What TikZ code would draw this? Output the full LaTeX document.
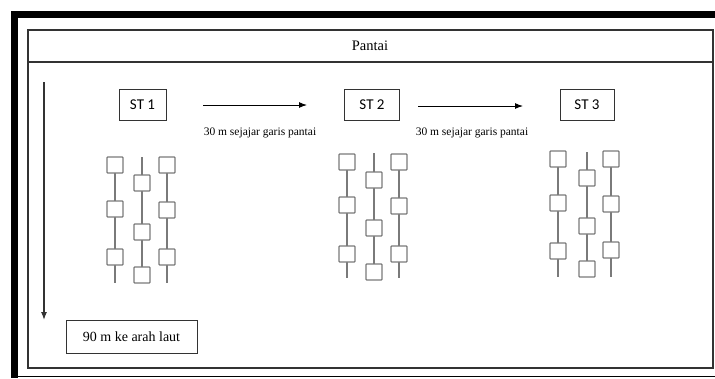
\documentclass[tikz,border=0pt]{standalone}
\usepackage{fontspec}
\setmainfont{Liberation Serif}
\newfontfamily\stfont{Carlito}
\usetikzlibrary{arrows.meta}
\definecolor{frameg}{HTML}{333333}
\definecolor{colg}{HTML}{7A7A7A}
\tikzset{
  stbox/.style={draw=frameg, line width=1pt, minimum width=#1, minimum height=31pt, inner sep=0pt, font=\stfont\fontsize{15}{17}\selectfont},
  sq/.style={draw=colg, line width=1.2pt, fill=white, minimum size=16pt, inner sep=0pt, rounded corners=0.8pt},
  colline/.style={draw=colg, line width=1.3pt},
  harrow/.style={draw=black, line width=1pt, -{Latex[length=8pt,width=6pt]}},
  lbl/.style={font=\fontsize{11.5}{13}\selectfont, inner sep=0pt},
}
\begin{document}
\begin{tikzpicture}[x=1pt,y=-1pt]
\useasboundingbox (0,0) rectangle (715,378);
\fill[white] (0,0) rectangle (715,378);
% black outer band
\fill[black] (11,11) rectangle (715,18);
\fill[black] (11,11) rectangle (18,378);
\fill[black] (18,375.8) rectangle (715,377.3);
% inner frame
\draw[frameg, line width=1.4pt] (28,30) rectangle (713,368);
\draw[frameg, line width=1.4pt] (28,62) -- (713,62);
\node[font=\fontsize{14.5}{17}\selectfont] (pantai) at (370,46) {Pantai};
% stations
\node[stbox=47pt] (st1) at (142.5,104.5) {ST 1};
\node[stbox=55pt] (st2) at (372,104.5) {ST 2};
\node[stbox=54pt] (st3) at (587,104.5) {ST 3};
\coordinate (a1s) at (203,105);
\coordinate (a1e) at (307,105);
\coordinate (a2s) at (418,106);
\coordinate (a2e) at (523,106);
\draw[harrow] (a1s) -- (a1e);
\draw[harrow] (a2s) -- (a2e);
\node[lbl] (l1) at (260,133) {30 m sejajar garis pantai};
\node[lbl] (l2) at (472,133) {30 m sejajar garis pantai};
% grids
\foreach \n/\x/\a/\b/\c/\s/\e in {
  g1a/115/165/209/257/165/283, g1b/142/183/232/275/157/275, g1c/167/165/210/257/165/283,
  g2a/347/162/205/254/162/278, g2b/374/180/228/272/153/272, g2c/399/162/206/254/162/278,
  g3a/558/159/203/251/159/277, g3b/587/178/226/269/152/269, g3c/611/159/204/250/159/277}{
  \coordinate (\n t) at (\x,\s);
  \coordinate (\n b) at (\x,\e);
  \draw[colline] (\n t) -- (\n b);
  \node[sq] (\n 1) at (\x,\a) {};
  \node[sq] (\n 2) at (\x,\b) {};
  \node[sq] (\n 3) at (\x,\c) {};
}
% depth arrow
\coordinate (vs) at (44,82);
\coordinate (ve) at (44,320);
\draw[frameg, line width=1.2pt, -{Latex[length=8pt,width=6pt]}] (vs) -- (ve);
\node[draw=frameg, line width=1pt, minimum width=131pt, minimum height=33pt, inner sep=0pt, font=\fontsize{14}{16}\selectfont] (laut) at (131.5,336.5) {90 m ke arah laut};
\end{tikzpicture}
\end{document}
